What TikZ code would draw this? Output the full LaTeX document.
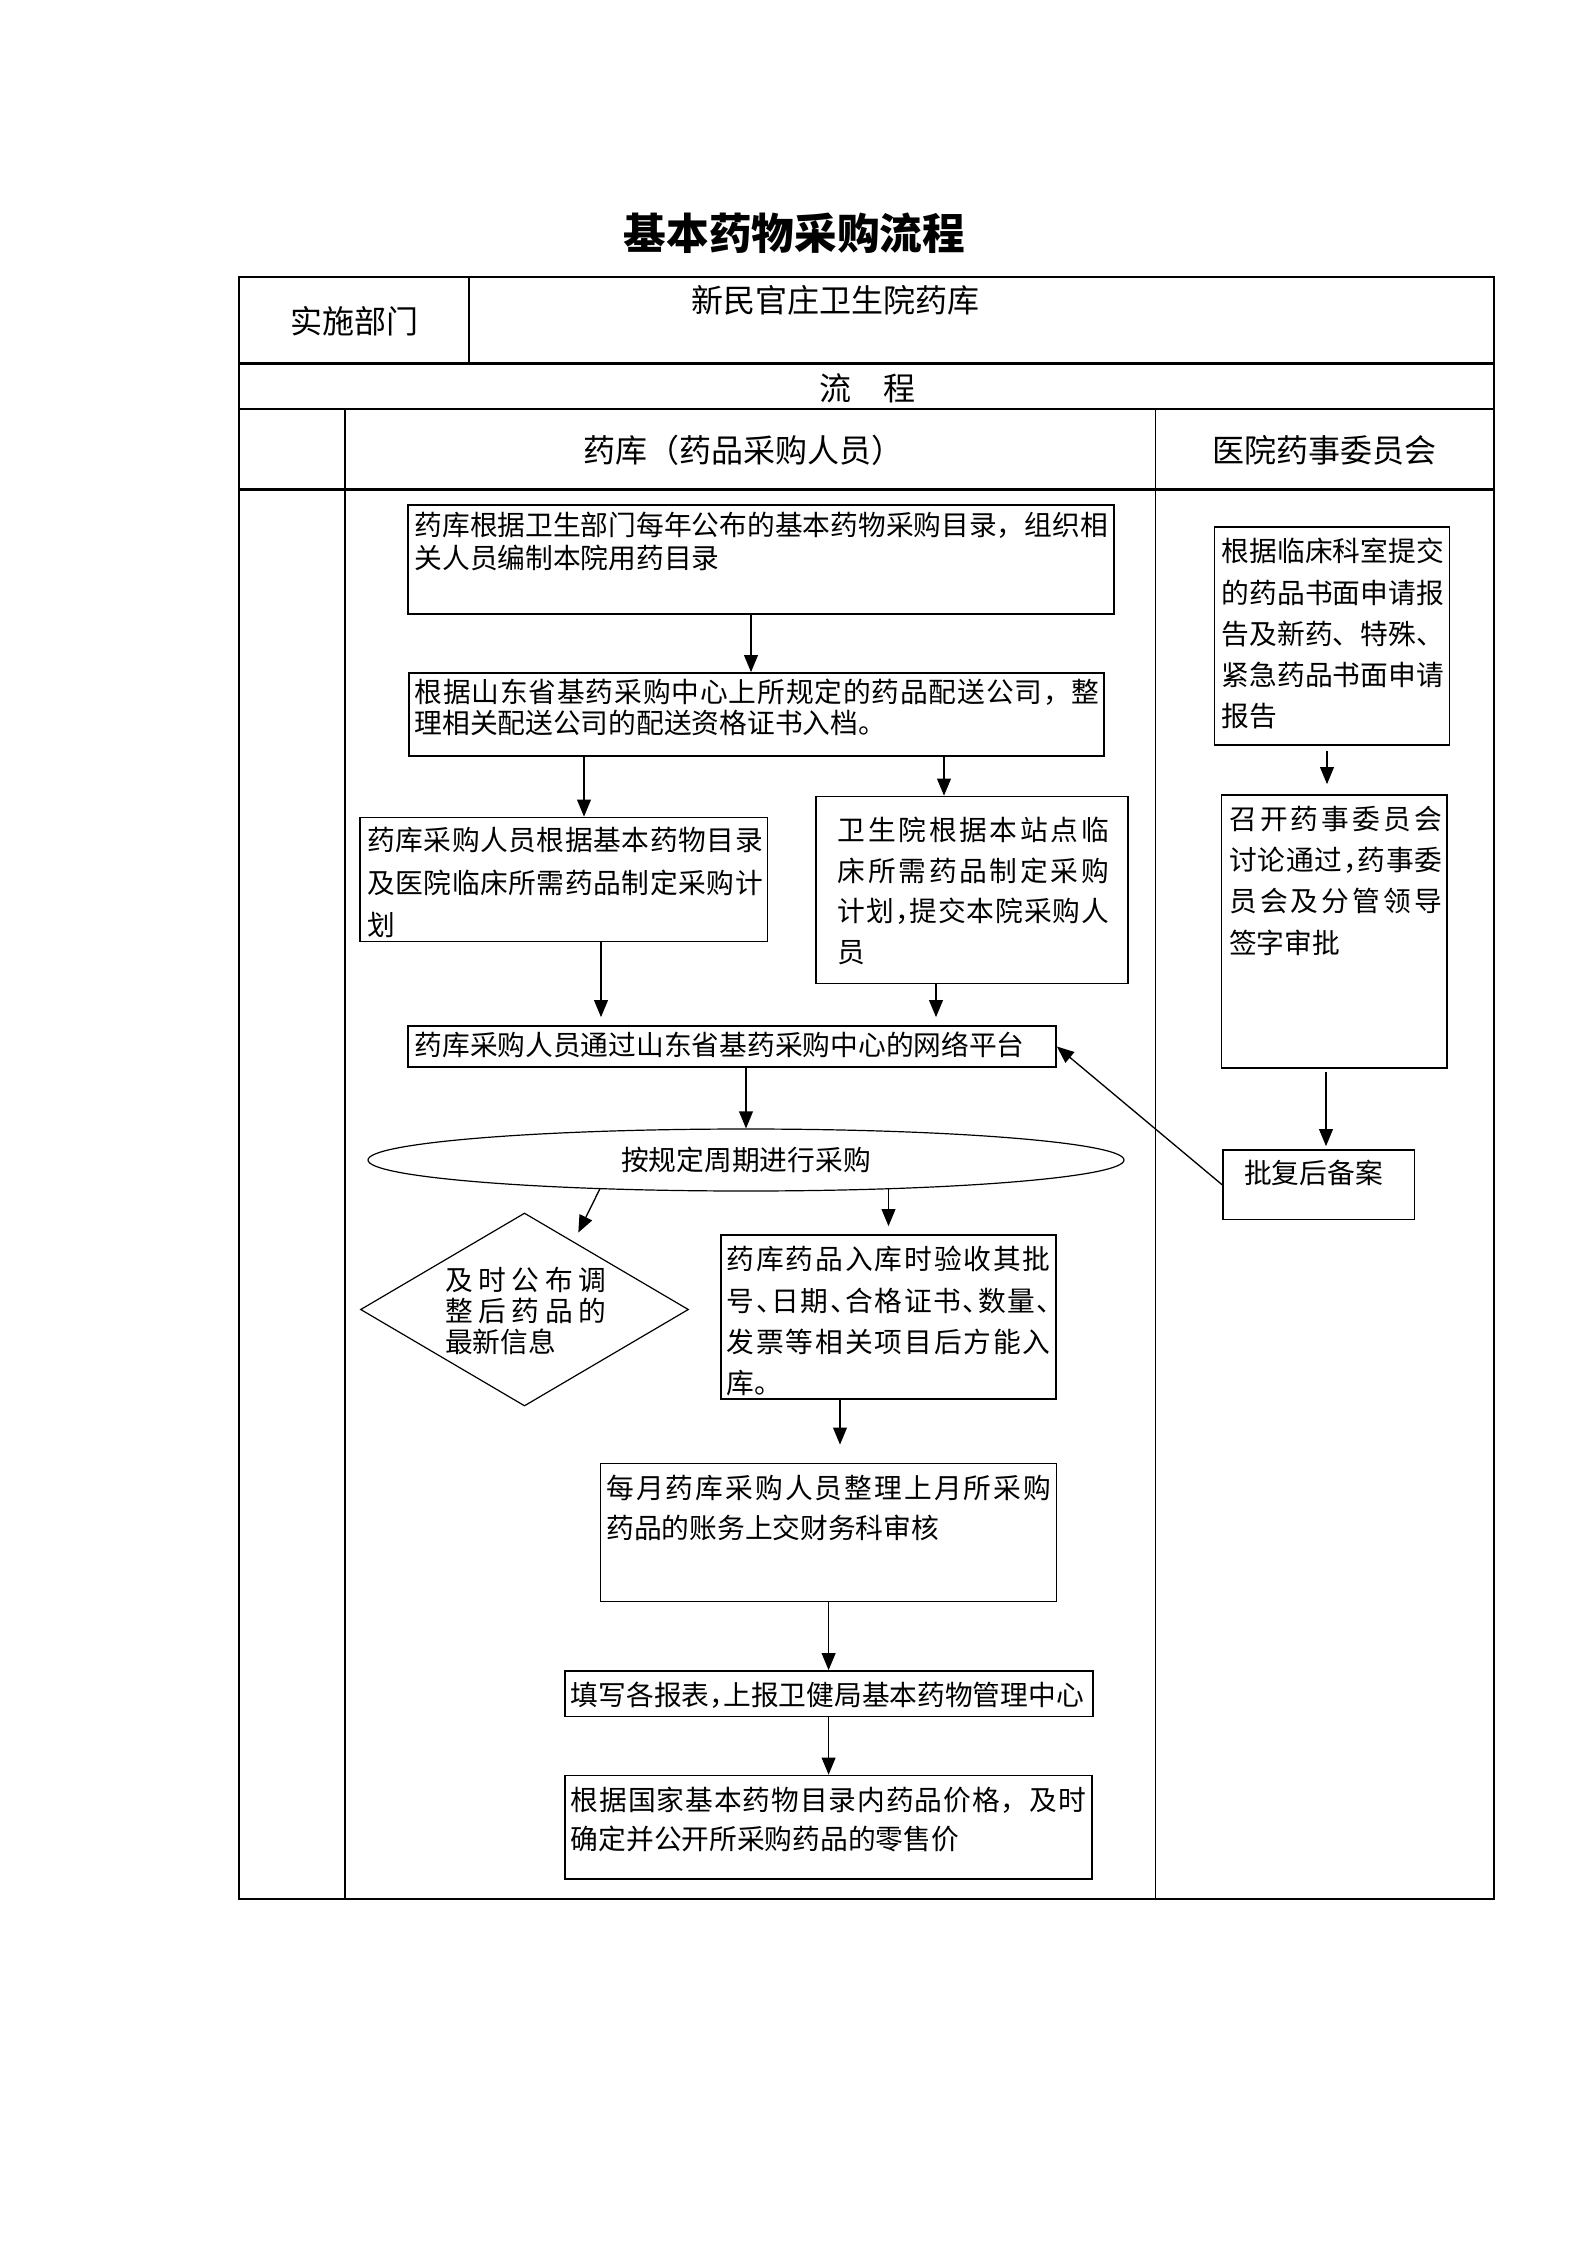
\documentclass[tikz,border=0pt]{standalone}
\usepackage{fontspec}
\setmainfont{Noto Sans CJK SC}
\usetikzlibrary{arrows.meta,shapes.geometric,fit,calc}
\newdimen\px \px=0.375pt
\def\spreadchars#1#2{#1\ifx\relax#2\else\hfil\expandafter\spreadchars\expandafter#2\fi}
\newcommand\Sp[2]{\hbox to #1{\spreadchars#2\relax}}
\newcommand\Ln[1]{\hbox{#1}}
\newcommand\Txt[2]{\vtop{\baselineskip=#1\lineskiplimit=-20pt\lineskip=0pt\relax#2}}
\newcommand\HC{\makebox[0.5em][l]{，}}
\newcommand\HD{\makebox[0.5em][l]{、}}
\begin{document}
\begin{tikzpicture}[x=0.375pt,y=-0.375pt,
  tbl/.style={line width=0.8pt},
  outerline/.style={line width=1.1pt},
  thinline/.style={line width=0.4pt},
  box/.style={draw, line width=0.65pt, inner sep=0pt},
  shp/.style={draw, line width=0.45pt, inner sep=0pt},
  txt/.style={inner sep=0pt, anchor=base west, font=\fontsize{10.4}{12}\selectfont},
  hdr/.style={inner sep=0pt, anchor=base, font=\fontsize{12}{14}\selectfont},
  arr/.style={line width=0.5pt, -{Triangle[length=6.4pt,width=5.2pt]}}]

\fill[white] (0,0) rectangle (1587,2245);
\useasboundingbox (0,0) rectangle (1587,2245);

% title
\node[inner sep=0pt, anchor=base, font=\fontsize{16}{18}\selectfont\bfseries] (title) at (794.4,249.5) {基本药物采购流程};

% table frame
\draw[outerline] (239,277) rectangle (1494,1899);
\draw[tbl] (239,363.5) -- (1494,363.5);
\draw[tbl] (239,409) -- (1494,409);
\draw[tbl] (239,489.5) -- (1494,489.5);
\draw[thinline] (469,277) -- (469,363.5);
\draw[thinline] (345,409) -- (345,1899);
\draw[thinline] (1155.5,409) -- (1155.5,1899);

% header texts
\node[hdr] (h1) at (354,333.9) {实施部门};
\node[hdr] (h2) at (835,312.2) {新民官庄卫生院药库};
\node[hdr] (h3) at (867.5,400.5) {流　程};
\node[hdr] (h4) at (743,462.2) {药库（药品采购人员）};
\node[hdr] (h5) at (1324,462.2) {医院药事委员会};

% left column boxes
\node[box, fit={(408,505) (1114,614)}] (A) {};
\node[txt] (tA) at (414,535.6) {\Txt{12.5pt}{\Ln{药库根据卫生部门每年公布的基本药物采购目录，组织相}\Ln{关人员编制本院用药目录}}};

\node[box, fit={(409,673) (1104,756)}] (B) {};
\node[txt] (tB) at (414,702.6) {\Txt{11.7pt}{\Sp{685\px}{根据山东省基药采购中心上所规定的药品配送公司，整}\Ln{理相关配送公司的配送资格证书入档。}}};

\node[box, fit={(360,817.5) (767.5,941.5)}] (C) {};
\node[txt] (tC) at (366.5,850.6) {\Txt{15.9pt}{\Sp{396\px}{药库采购人员根据基本药物目录}\Sp{396\px}{及医院临床所需药品制定采购计}\Ln{划}}};

\node[box, fit={(816,796.5) (1128,983.5)}] (D) {};
\node[txt] (tD) at (837.4,840.6) {\Txt{15.2pt}{\Sp{271\px}{卫生院根据本站点临}\Sp{271\px}{床所需药品制定采购}\Sp{271\px}{计划\HC 提交本院采购人}\Ln{员}}};

\node[box, fit={(408,1026) (1056,1067)}] (E) {};
\node[txt] (tE) at (414,1055.6) {药库采购人员通过山东省基药采购中心的网络平台};

\node[shp, ellipse, minimum width=756\px, minimum height=62\px, font=\fontsize{10.4}{12}\selectfont] (F) at (746,1160) {按规定周期进行采购};

\node[shp, diamond, minimum width=328\px, minimum height=193\px] (G) at (524.5,1309.5) {};
\node[txt] (tG) at (444.6,1290.6) {\Txt{11.6pt}{\Sp{161\px}{及时公布调}\Sp{161\px}{整后药品的}\Ln{最新信息}}};

\node[box, fit={(721,1235) (1056,1399)}] (H) {};
\node[txt] (tH) at (726.2,1269.9) {\Txt{15.5pt}{\Sp{324\px}{药库药品入库时验收其批}\Sp{324\px}{号\HD 日期\HD 合格证书\HD 数量\HD}\Sp{324\px}{发票等相关项目后方能入}\Ln{库。}}};

\node[box, fit={(600.5,1463.5) (1056.5,1601.5)}] (I) {};
\node[txt] (tI) at (605.8,1498.9) {\Txt{15pt}{\Sp{445\px}{每月药库采购人员整理上月所采购}\Ln{药品的账务上交财务科审核}}};

\node[box, fit={(565,1671) (1093,1716.5)}] (J) {};
\node[txt] (tJ) at (570.3,1705.6) {填写各报表\HC 上报卫健局基本药物管理中心};

\node[box, fit={(565,1775.5) (1092,1879)}] (K) {};
\node[txt] (tK) at (570.3,1810.6) {\Txt{14.4pt}{\Sp{515\px}{根据国家基本药物目录内药品价格，及时}\Ln{确定并公开所采购药品的零售价}}};

% right column boxes
\node[box, fit={(1214.5,527) (1449.5,745)}] (L) {};
\node[txt] (tL) at (1221.4,561.9) {\Txt{15.45pt}{\Ln{根据临床科室提交}\Ln{的药品书面申请报}\Ln{告及新药、特殊、}\Ln{紧急药品书面申请}\Ln{报告}}};

\node[box, fit={(1221.5,795) (1447,1068)}] (M) {};
\node[txt] (tM) at (1228.7,829.5) {\Txt{15.45pt}{\Sp{213\px}{召开药事委员会}\Sp{213\px}{讨论通过\HC 药事委}\Sp{213\px}{员会及分管领导}\Ln{签字审批}}};

\node[box, fit={(1223,1150) (1414.5,1219.5)}] (N) {};
\node[txt] (tN) at (1243.7,1183.4) {批复后备案};

% connector helpers
\coordinate (x1) at (751,0);
\coordinate (x2) at (584,0);
\coordinate (x3) at (944,0);
\coordinate (x4) at (601,0);
\coordinate (x5) at (936,0);
\coordinate (x6) at (840,0);
\coordinate (x7) at (828.6,0);
\coordinate (x8) at (1327,0);
\coordinate (x9) at (1326,0);
\coordinate (fg) at ($(F.center)+(-146,28.6)$);
\coordinate (fh) at ($(F.center)+(142.5,28.7)$);
\coordinate (gt) at ($(G.north)!0.3!(G.east)$);

% connectors
\draw[arr] (A.south -| x1) -- (B.north -| x1);
\draw[arr] (B.south -| x2) -- (C.north -| x2);
\draw[arr] (B.south -| x3) -- (D.north -| x3);
\draw[arr, shorten >=8\px] (C.south -| x4) -- (E.north -| x4);
\draw[arr, shorten >=8\px] (D.south -| x5) -- (E.north -| x5);
\draw[arr] (E.south -| F.north) -- (F.north);
\draw[arr, shorten >=10\px] (fg) -- (gt);
\draw[arr, shorten >=8\px] (fh) -- (fh |- H.north);
\draw[arr, shorten >=18\px] (H.south -| x6) -- (I.north -| x6);
\draw[arr] (I.south -| x7) -- (J.north -| x7);
\draw[arr] (J.south -| x7) -- (K.north -| x7);
\draw[arr, shorten <=5\px, shorten >=10\px] (L.south -| x8) -- (M.north -| x8);
\draw[arr, shorten <=3\px, shorten >=3\px] (M.south -| x9) -- (N.north -| x9);
\draw[arr] (N.west) -- (E.east);
\end{tikzpicture}
\end{document}
